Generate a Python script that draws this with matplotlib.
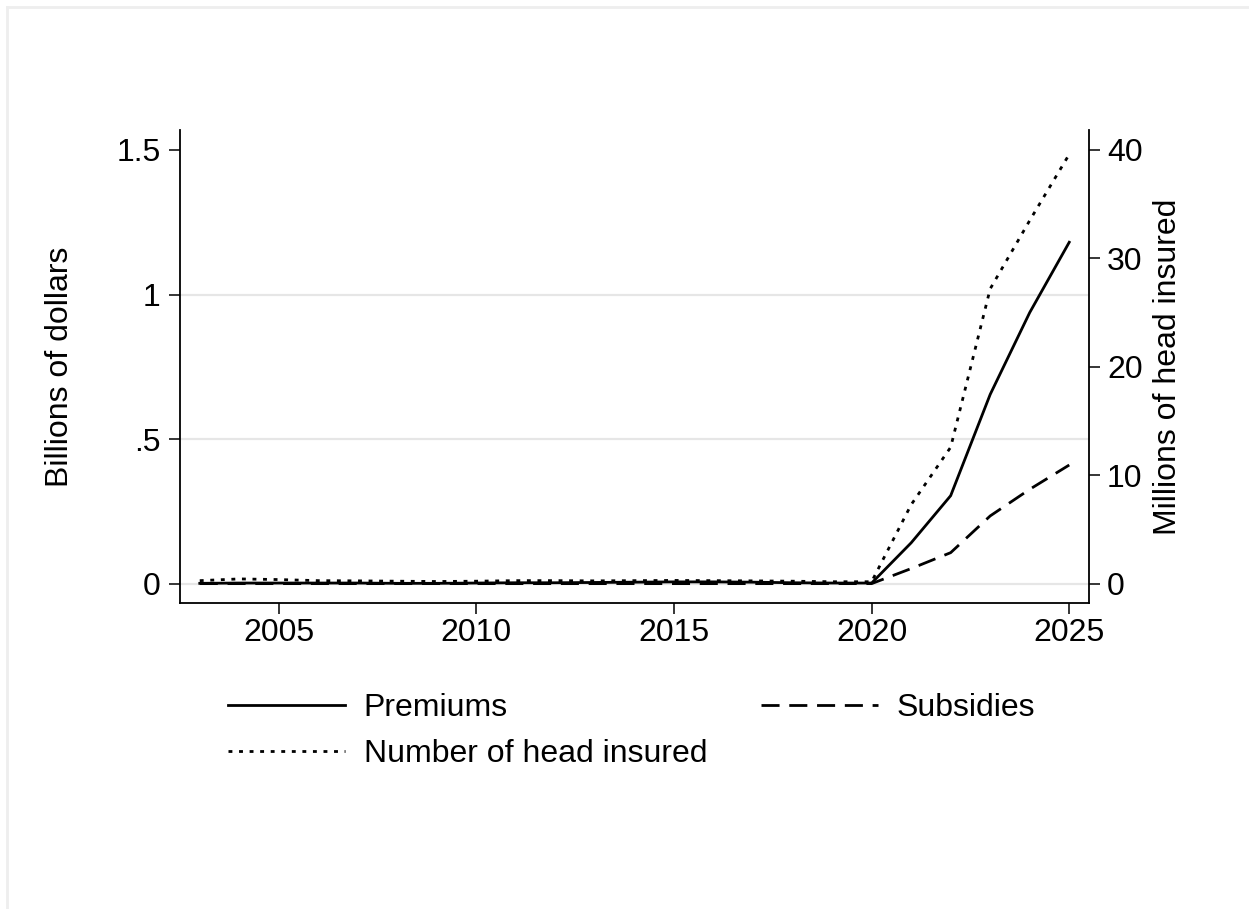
import matplotlib
matplotlib.use('Agg')
from matplotlib import pyplot as plt
from matplotlib.lines import Line2D

years = list(range(2003, 2026))
premiums = [0.002, 0.003, 0.003, 0.003, 0.003, 0.002, 0.002, 0.003, 0.004,
            0.004, 0.005, 0.006, 0.007, 0.007, 0.006, 0.004, 0.003, 0.003,
            0.142, 0.305, 0.655, 0.938, 1.181]
subsidies = [0.001, 0.001, 0.001, 0.001, 0.001, 0.001, 0.001, 0.001, 0.001,
             0.001, 0.001, 0.001, 0.001, 0.001, 0.001, 0.001, 0.001, 0.001,
             0.053, 0.108, 0.235, 0.327, 0.411]
head_insured = [0.3, 0.46, 0.4, 0.3, 0.28, 0.25, 0.22, 0.25, 0.3, 0.3, 0.28,
                0.3, 0.32, 0.3, 0.28, 0.25, 0.2, 0.2,
                7.3, 12.6, 27.2, 33.5, 39.6]

left_ticks = [0, 0.5, 1, 1.5]
left_labels = ['0', '.5', '1', '1.5']
right_ticks = [0, 10, 20, 30, 40]
x_ticks = [2005, 2010, 2015, 2020, 2025]

plt.rcParams['font.family'] = ['Liberation Sans', 'DejaVu Sans']
plt.rcParams['lines.scale_dashes'] = False

W, H = 1249, 909
FS = 23
fig = plt.figure(figsize=(W / 100, H / 100), dpi=100)
fig.patch.set_facecolor('white')

# faint outer frame (only top and left visible in the reference)
fig.add_artist(Line2D([7 / W, 7 / W], [0, 1 - 7 / H], color='#eeeeee', lw=2,
                      transform=fig.transFigure))
fig.add_artist(Line2D([7 / W, 1], [1 - 7 / H, 1 - 7 / H], color='#eeeeee', lw=2,
                      transform=fig.transFigure))

ax = fig.add_axes([180 / W, 1 - 603 / H, 909 / W, 473 / H])
ax2 = ax.twinx()

ymin, ymax = -0.066, 1.569
ax.set_ylim(ymin, ymax)
scale = 40 / 1.5
ax2.set_ylim(ymin * scale, ymax * scale)
ax.set_xlim(2002.5, 2025.5)

for y in [0, 0.5, 1]:
    ax.axhline(y, color='#e6e6e6', lw=1.6, zorder=0)

lw = 2.0
l1, = ax.plot(years, premiums, color='black', lw=lw, label='Premiums')
l2, = ax.plot(years, subsidies, color='black', lw=lw, dashes=(13, 7),
              label='Subsidies')
l3, = ax2.plot(years, head_insured, color='black', lw=lw, dashes=(2.8, 4.8),
               label='Number of head insured')

for a in (ax, ax2):
    a.spines['top'].set_visible(False)
    for s in a.spines.values():
        s.set_linewidth(1.3)
ax.spines['right'].set_visible(False)
ax2.spines['left'].set_visible(False)
ax2.spines['bottom'].set_visible(False)

ax.set_xticks(x_ticks)
ax.set_yticks(left_ticks)
ax.set_yticklabels(left_labels)
ax2.set_yticks(right_ticks)
ax.tick_params(axis='x', length=8, width=1.1, labelsize=FS, pad=3)
ax.tick_params(axis='y', length=8, width=1.1, labelsize=FS, pad=6)
ax2.tick_params(axis='y', length=8, width=1.1, labelsize=FS, pad=5)

ax.set_ylabel('Billions of dollars', fontsize=FS, va='center')
ax.yaxis.set_label_coords((60 - 180) / 909, 0.5)
ax2.set_ylabel('Millions of head insured', fontsize=FS, va='center',
               rotation=90)
ax2.yaxis.set_label_coords((1168 - 180) / 909, 0.5)

fig.legend(handles=[l1, l3, l2], ncol=2, frameon=False, fontsize=FS,
           loc='upper left', bbox_to_anchor=(228 / W, 1 - 693 / H),
           borderaxespad=0, borderpad=0, handlelength=3.65,
           handletextpad=0.6, columnspacing=1.68, labelspacing=0.5)

fig.savefig('out.png', dpi=100, facecolor='white')
